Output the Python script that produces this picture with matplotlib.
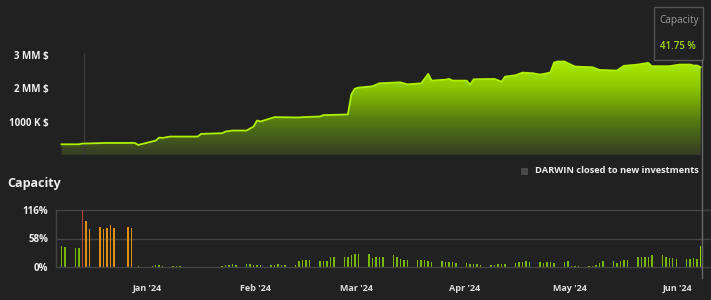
import matplotlib
matplotlib.use('Agg')
import matplotlib.pyplot as plt
import matplotlib.dates as mdates
from matplotlib.colors import LinearSegmentedColormap
from matplotlib.lines import Line2D
from matplotlib.patches import Rectangle
import numpy as np
import pandas as pd

plt.rcParams['font.family'] = ['Open Sans', 'DejaVu Sans']

# investors' equity (top chart), in $
equity_dates = ['2023-12-07', '2023-12-12', '2023-12-13', '2023-12-20', '2023-12-28',
                '2023-12-29', '2024-01-03', '2024-01-04', '2024-01-05', '2024-01-07',
                '2024-01-15', '2024-01-16', '2024-01-22', '2024-01-23', '2024-01-25',
                '2024-01-29', '2024-01-31', '2024-02-01', '2024-02-02', '2024-02-06',
                '2024-02-13', '2024-02-14', '2024-02-19', '2024-02-20', '2024-02-27',
                '2024-02-28', '2024-02-29', '2024-03-01', '2024-03-05', '2024-03-07',
                '2024-03-13', '2024-03-15', '2024-03-19', '2024-03-21', '2024-03-22',
                '2024-03-26', '2024-03-27', '2024-03-28', '2024-04-01', '2024-04-02',
                '2024-04-03', '2024-04-09', '2024-04-11', '2024-04-12', '2024-04-15',
                '2024-04-17', '2024-04-20', '2024-04-22', '2024-04-24', '2024-04-25',
                '2024-04-26', '2024-04-27', '2024-04-29', '2024-05-02', '2024-05-07',
                '2024-05-09', '2024-05-14', '2024-05-16', '2024-05-20', '2024-05-23',
                '2024-05-24', '2024-05-29', '2024-06-01', '2024-06-04', '2024-06-05',
                '2024-06-06', '2024-06-07']
equity_mm = [0.32, 0.32, 0.34, 0.36, 0.36,
             0.30, 0.43, 0.52, 0.51, 0.55,
             0.55, 0.63, 0.65, 0.70, 0.73,
             0.73, 0.85, 1.03, 1.00, 1.13,
             1.12, 1.13, 1.15, 1.19, 1.21,
             1.81, 1.98, 2.01, 2.05, 2.14,
             2.17, 2.11, 2.14, 2.42, 2.22,
             2.25, 2.27, 2.22, 2.22, 2.10,
             2.26, 2.27, 2.19, 2.34, 2.38,
             2.46, 2.44, 2.40, 2.44, 2.47,
             2.76, 2.79, 2.79, 2.64, 2.62,
             2.54, 2.52, 2.66, 2.70, 2.75,
             2.65, 2.65, 2.70, 2.70, 2.67,
             2.67, 2.62]

# daily capacity (bottom chart), in %
cap_dates = ['2023-12-07', '2023-12-08', '2023-12-11', '2023-12-12', '2023-12-13',
             '2023-12-14', '2023-12-15', '2023-12-18', '2023-12-19', '2023-12-20',
             '2023-12-21', '2023-12-22', '2023-12-26', '2023-12-27', '2023-12-28',
             '2023-12-29', '2024-01-02', '2024-01-03', '2024-01-04', '2024-01-05',
             '2024-01-08', '2024-01-09', '2024-01-10', '2024-01-22', '2024-01-23',
             '2024-01-24', '2024-01-25', '2024-01-26', '2024-01-29', '2024-01-30',
             '2024-01-31', '2024-02-01', '2024-02-02', '2024-02-05', '2024-02-06',
             '2024-02-07', '2024-02-08', '2024-02-09', '2024-02-12', '2024-02-13',
             '2024-02-14', '2024-02-15', '2024-02-16', '2024-02-19', '2024-02-20',
             '2024-02-21', '2024-02-22', '2024-02-23', '2024-02-26', '2024-02-27',
             '2024-02-28', '2024-02-29', '2024-03-01', '2024-03-04', '2024-03-05',
             '2024-03-06', '2024-03-07', '2024-03-08', '2024-03-11', '2024-03-12',
             '2024-03-13', '2024-03-14', '2024-03-15', '2024-03-18', '2024-03-19',
             '2024-03-20', '2024-03-21', '2024-03-22', '2024-03-25', '2024-03-26',
             '2024-03-27', '2024-03-28', '2024-03-29', '2024-04-01', '2024-04-02',
             '2024-04-03', '2024-04-04', '2024-04-05', '2024-04-08', '2024-04-09',
             '2024-04-10', '2024-04-11', '2024-04-12', '2024-04-15', '2024-04-16',
             '2024-04-17', '2024-04-18', '2024-04-19', '2024-04-22', '2024-04-23',
             '2024-04-24', '2024-04-25', '2024-04-26', '2024-04-29', '2024-04-30',
             '2024-05-01', '2024-05-02', '2024-05-03', '2024-05-06', '2024-05-07',
             '2024-05-08', '2024-05-09', '2024-05-10', '2024-05-13', '2024-05-14',
             '2024-05-15', '2024-05-16', '2024-05-17', '2024-05-20', '2024-05-21',
             '2024-05-22', '2024-05-23', '2024-05-24', '2024-05-27', '2024-05-28',
             '2024-05-29', '2024-05-30', '2024-05-31', '2024-06-03', '2024-06-04',
             '2024-06-05', '2024-06-06', '2024-06-07']
cap_pct = [42, 40, 38, 38, 116,
           93, 78, 82, 78, 79,
           85, 80, 82, 79, 1,
           2, 3, 4, 5, 3,
           3, 2, 2, 3, 5,
           5, 7, 5, 7, 7,
           5, 5, 4, 5, 5,
           7, 5, 5, 5, 12,
           15, 14, 14, 12, 12,
           12, 20, 20, 21, 21,
           25, 26, 26, 26, 19,
           20, 21, 21, 24, 20,
           16, 14, 14, 14, 14,
           14, 12, 11, 12, 11,
           11, 11, 9, 9, 7,
           7, 7, 5, 5, 5,
           7, 7, 7, 9, 10,
           10, 12, 10, 10, 9,
           10, 10, 9, 11, 12,
           2, 2, 2, 3, 3,
           4, 9, 12, 12, 9,
           12, 14, 14, 20, 20,
           21, 21, 24, 24, 21,
           19, 18, 16, 16, 16,
           18, 16, 41.75]

month_ticks = ['2024-01-01', '2024-02-01', '2024-03-01', '2024-04-01', '2024-05-01', '2024-06-01']
month_labels = ["Jan '24", "Feb '24", "Mar '24", "Apr '24", "May '24", "Jun '24"]
closed_date = '2023-12-14'
last_value = "41.75 %"

BG = '#212121'
W, H = 711, 300


def box(l, t, r, b):
    return [l / W, 1 - b / H, (r - l) / W, (b - t) / H]


fig = plt.figure(figsize=(7.11, 3.0), dpi=100, facecolor=BG)
ax1 = fig.add_axes(box(56, 53, 711, 155))
ax2 = fig.add_axes(box(56, 210, 711, 267))

# shared x range (Jan 1 at px 147, ~3.493 px per day)
jan1 = mdates.date2num(pd.Timestamp('2024-01-01'))
ppd = 531 / 152
xmin = jan1 - (147 - 56) / ppd
xmax = jan1 + (711 - 147) / ppd

# ---- top: equity area with gradient fill
xe = mdates.date2num(pd.to_datetime(equity_dates)) + 0.5
ye = np.array(equity_mm) * 1e6
ytop = (155 - 53) / 33.5 * 1e6

ax1.set_facecolor(BG)
ax1.set_xlim(xmin, xmax)
ax1.set_ylim(0, ytop)
cmap = LinearSegmentedColormap.from_list('g', ['#343c26', '#557a12', '#8cc800', '#b4f800'])
grad = np.linspace(0, 1, 256).reshape(-1, 1)
im = ax1.imshow(grad, extent=[xmin, xmax, 0, ytop], origin='lower', cmap=cmap,
                aspect='auto', zorder=1)
poly = ax1.fill_between(xe, ye, 0, color='none')
im.set_clip_path(poly.get_paths()[0], ax1.transData)
ax1.plot(xe, ye, color='#aef000', lw=1.3, zorder=3)
ax1.axvline(mdates.date2num(pd.Timestamp(closed_date)), color='#383838', lw=1, zorder=2)

ax1.set_yticks([1e6, 2e6, 3e6])
ax1.set_yticklabels(['1000 K $', '2 MM $', '3 MM $'])
ax1.set_xticks([])
ax1.tick_params(axis='y', length=0, pad=5.5, labelsize=7, labelcolor='#eeeeee')
for t in ax1.get_yticklabels():
    t.set_fontweight('bold')
for s in ax1.spines.values():
    s.set_visible(False)

# ---- bottom: capacity bars
xc = mdates.date2num(pd.to_datetime(cap_dates)) + 0.5
colors = ['#c0403a' if v >= 100 else '#e0900e' if v >= 70 else '#78b600' for v in cap_pct]
colors[-1] = '#96dc00'

ax2.set_facecolor(BG)
ax2.set_xlim(xmin, xmax)
ax2.set_ylim(0, 116)
for yv in [58, 116]:
    ax2.axhline(yv, color='#444444', lw=1, zorder=1, clip_on=False)
ax2.bar(xc, cap_pct, width=0.42, color=colors, zorder=2)

ax2.set_yticks([0, 58, 116])
ax2.set_yticklabels(['0%', '58%', '116%'])
ax2.set_xticks(mdates.date2num(pd.to_datetime(month_ticks)))
ax2.set_xticklabels(month_labels)
ax2.tick_params(axis='y', length=0, pad=5.5, labelsize=7, labelcolor='#eeeeee')
ax2.tick_params(axis='x', length=0, pad=12.5, labelsize=6.5, labelcolor='#dddddd')
for t in ax2.get_yticklabels() + ax2.get_xticklabels():
    t.set_fontweight('bold')
for side in ['top', 'right']:
    ax2.spines[side].set_visible(False)
for side in ['left', 'bottom']:
    ax2.spines[side].set_color('#444444')
    ax2.spines[side].set_linewidth(1)

# ---- titles, legend, tooltip
fig.text(7 / W, 1 - 184 / H, 'Capacity', va='center', ha='left', fontsize=9,
         fontweight='bold', color='#eeeeee')

fig.patches.append(Rectangle((521 / W, 1 - 175 / H), 7 / W, 7 / H, transform=fig.transFigure,
                             facecolor='#474747', edgecolor='none'))
fig.text(535 / W, 1 - 171 / H, 'DARWIN closed to new investments', va='center', ha='left',
         fontsize=6.7, fontweight='bold', color='#eeeeee')

fig.lines.append(Line2D([702 / W, 702 / W], [1 - 59.5 / H, 1 - 278 / H],
                        transform=fig.transFigure, color='#666666', lw=1))
fig.patches.append(Rectangle((653.5 / W, 1 - 59.5 / H), 49 / W, 52.5 / H,
                             transform=fig.transFigure, facecolor=BG,
                             edgecolor='#555555', lw=1))
fig.text(659.5 / W, 1 - 21 / H, 'Capacity', va='center', ha='left', fontsize=7.2,
         color='#9a9a9a')
fig.text(660 / W, 1 - 46.5 / H, last_value, va='center', ha='left', fontsize=7,
         fontweight='semibold', color='#a4dc10')

fig.savefig('out.png', dpi=100, facecolor=BG)
